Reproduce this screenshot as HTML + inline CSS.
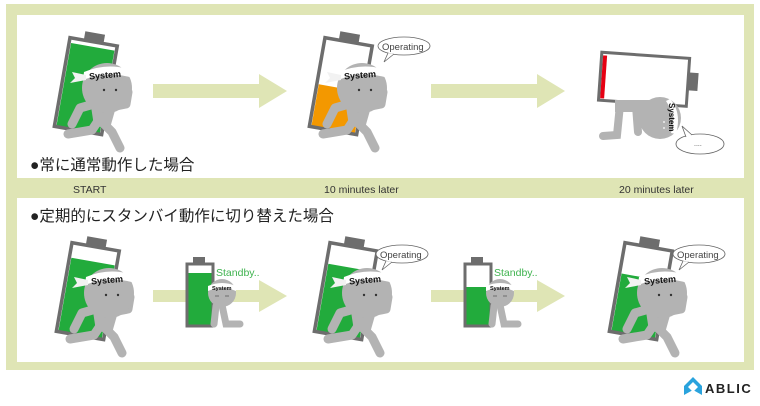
<!DOCTYPE html>
<html><head><meta charset="utf-8"><style>
html,body{margin:0;padding:0;background:#fff}
svg{display:block}
text{font-family:"Liberation Sans","Noto Sans CJK JP",sans-serif}
</style></head><body>
<svg width="760" height="406" viewBox="0 0 760 406" xmlns="http://www.w3.org/2000/svg">
<defs>
<g id="fig">
  <g stroke="#b3b3b3" stroke-width="9" stroke-linecap="round" stroke-linejoin="round" fill="none">
    <path d="M100 118 L92 130 L68 134"/>
    <path d="M102 122 L112 132 L120 148"/>
    <path d="M94 104 L80 108 L72 124"/>
    <path d="M116 106 L126 104 L128 92"/>
  </g>
  <path d="M90 100 L118 100 L110 128 L94 126 Z" fill="#b3b3b3"/>
  <circle cx="107" cy="88" r="25" fill="#b3b3b3"/>
  <path d="M84 72 Q107 62 132 70 L133 78 Q107 70 83 80 Z" fill="#fff"/>
  <path d="M86 75 L72 72 L75 78 L70 83 L86 80 Z" fill="#f2f2f2"/>
  <text x="89" y="78" font-size="9" font-weight="bold" fill="#111" transform="rotate(-5 107 75)">System</text>
  <circle cx="104" cy="90" r="1.2" fill="#333"/><circle cx="116" cy="90" r="1.2" fill="#333"/>
</g>
<g id="batt">
  <g transform="rotate(10 85 85)">
    <rect x="76" y="32" width="20" height="10" fill="#6d6d6d"/>
    <rect x="62" y="41" width="48" height="90" fill="none" stroke="#6d6d6d" stroke-width="3.5"/>
  </g>
</g>
<g id="sb">
  <rect x="193" y="257" width="12" height="7" fill="#6d6d6d"/>
  <rect x="187" y="264" width="26" height="62" fill="none" stroke="#6d6d6d" stroke-width="3"/>
  <g stroke="#b3b3b3" stroke-width="7" stroke-linecap="round" fill="none">
    <path d="M222 305 L226 324 L240 324"/>
    <path d="M216 306 L214 324"/>
  </g>
  <circle cx="222" cy="293" r="14" fill="#b3b3b3"/>
  <path d="M208 286 Q222 280 236 286 L236 291 Q222 285 208 291 Z" fill="#fff"/>
  <text x="212" y="290" font-size="5.5" font-weight="bold" fill="#111">System</text>
  <path d="M215 296 h4 M225 296 h4" stroke="#555" stroke-width="0.8"/>
</g>
</defs>

<rect x="6" y="4" width="748" height="366" fill="#dfe5b5"/>
<rect x="17" y="15" width="727" height="163" fill="#fff"/>
<rect x="17" y="198" width="727" height="164" fill="#fff"/>

<g fill="#dfe5b5">
  <path d="M153 84 H259 V74 L287 91 L259 108 V98 H153 Z"/>
  <path d="M431 84 H537 V74 L565 91 L537 108 V98 H431 Z"/>
  <path d="M153 290 H259 V280 L287 296 L259 312 V302 H153 Z"/>
  <path d="M431 290 H537 V280 L565 296 L537 312 V302 H431 Z"/>
</g>

<g>
  <rect x="64" y="46" width="44" height="84" fill="#22ab3c" transform="rotate(10 85 85)"/>
  <use href="#batt"/><use href="#fig"/>
</g>
<g transform="translate(255 0)">
  <rect x="64" y="88" width="44" height="42" fill="#f39800" transform="rotate(10 85 85)"/>
  <use href="#batt"/><use href="#fig"/>
</g>
<g font-size="9.5" fill="#444">
  <ellipse cx="404" cy="46" rx="26" ry="9" fill="#fff" stroke="#666" stroke-width="0.8"/>
  <path d="M388 53 L384 62 L394 54" fill="#fff" stroke="#666" stroke-width="0.8"/>
  <text x="382" y="50">Operating</text>
</g>

<g>
  <g transform="rotate(4 640 80)">
    <rect x="600" y="55" width="88" height="48" fill="#fff" stroke="#6d6d6d" stroke-width="3"/>
    <rect x="601.5" y="58" width="4" height="43" fill="#e60012"/>
    <rect x="689" y="69" width="9" height="18" fill="#6d6d6d"/>
  </g>
  <g stroke="#b3b3b3" stroke-width="8" fill="none" stroke-linecap="round">
    <path d="M620 105 L617 135 L603 136"/>
    <path d="M636 106 L638 132"/>
  </g>
  <rect x="615" y="100" width="40" height="12" fill="#b3b3b3"/>
  <circle cx="660" cy="118" r="21" fill="#b3b3b3"/>
  <path d="M670 99 Q682 112 676 134 L671 133 Q676 115 666 101 Z" fill="#fff"/>
  <text x="0" y="0" font-size="8" font-weight="bold" fill="#111" transform="translate(669 103) rotate(90)">System</text>
  <circle cx="664" cy="122" r="1" fill="#eee"/><circle cx="664" cy="128" r="1" fill="#eee"/>
  <ellipse cx="700" cy="144" rx="24" ry="10" fill="#fff" stroke="#666" stroke-width="0.8"/>
  <path d="M686 137 L682 126 L692 135" fill="#fff" stroke="#666" stroke-width="0.8"/>
  <text x="694" y="146" font-size="7" fill="#444">....</text>
</g>

<text x="30" y="170" font-size="15.5" fill="#222">●常に通常動作した場合</text>
<text x="73" y="193" font-size="10.5" fill="#333">START</text>
<text x="324" y="193" font-size="10.5" fill="#333">10 minutes later</text>
<text x="619" y="193" font-size="10.5" fill="#333">20 minutes later</text>
<text x="30" y="221" font-size="15.5" fill="#222">●定期的にスタンバイ動作に切り替えた場合</text>

<g transform="translate(2 205)">
  <rect x="64" y="56" width="44" height="74" fill="#22ab3c" transform="rotate(10 85 85)"/>
  <use href="#batt"/><use href="#fig"/>
</g>
<g transform="translate(260 205)">
  <rect x="64" y="62" width="44" height="68" fill="#22ab3c" transform="rotate(10 85 85)"/>
  <use href="#batt"/><use href="#fig"/>
</g>
<g transform="translate(555 205)">
  <rect x="64" y="72" width="44" height="58" fill="#22ab3c" transform="rotate(10 85 85)"/>
  <use href="#batt"/><use href="#fig"/>
</g>
<g font-size="9.5" fill="#444">
  <ellipse cx="402" cy="254" rx="26" ry="9" fill="#fff" stroke="#666" stroke-width="0.8"/>
  <path d="M386 261 L382 270 L392 262" fill="#fff" stroke="#666" stroke-width="0.8"/>
  <text x="380" y="258">Operating</text>
  <ellipse cx="699" cy="254" rx="26" ry="9" fill="#fff" stroke="#666" stroke-width="0.8"/>
  <path d="M683 261 L679 270 L689 262" fill="#fff" stroke="#666" stroke-width="0.8"/>
  <text x="677" y="258">Operating</text>
</g>

<rect x="188.5" y="273" width="23" height="51.5" fill="#22ab3c"/>
<use href="#sb"/>
<text x="216" y="276" font-size="10.5" fill="#3fb34f">Standby..</text>
<g transform="translate(278 0)">
  <rect x="188.5" y="287" width="23" height="37.5" fill="#22ab3c"/>
  <use href="#sb"/>
  <text x="216" y="276" font-size="10.5" fill="#3fb34f">Standby..</text>
</g>

<path d="M684 386 L693 377 L702 386 L702 395 L693 390 L684 395 Z" fill="#2aa3dd"/>
<path d="M688 387 L693 382 L698 387 L693 392 Z" fill="#fff"/>
<text x="705" y="393" font-size="13" font-weight="bold" fill="#222" letter-spacing="1.5">ABLIC</text>
</svg>
</body></html>
